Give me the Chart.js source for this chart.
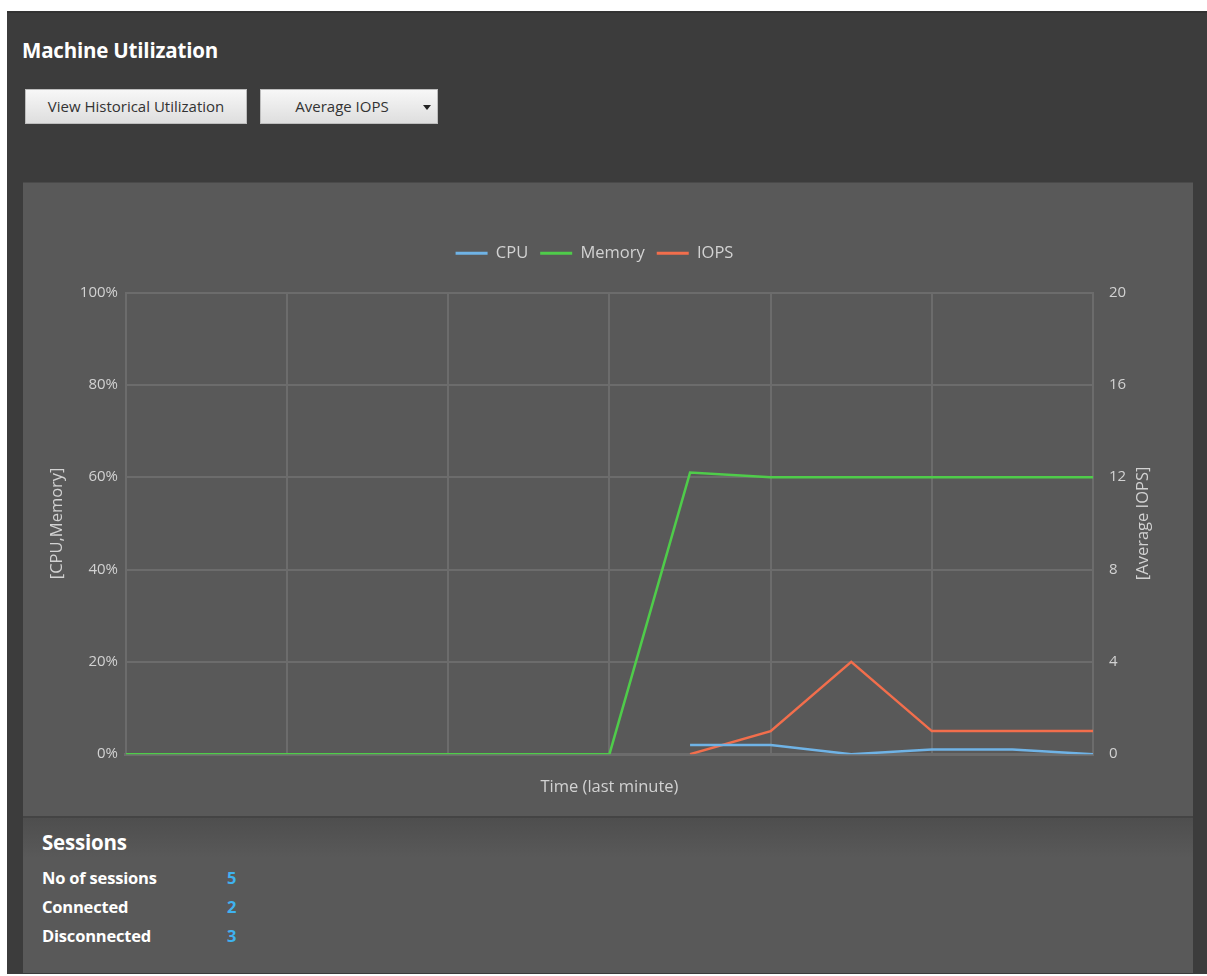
<!DOCTYPE html>
<html>
<head>
<meta charset="utf-8">
<script src="https://cdn.jsdelivr.net/npm/chart.js@4"></script>
<style>
  body { margin: 0; background: #fff; font-family: "Open Sans", "Noto Sans", sans-serif; }
  #outer { position: absolute; left: 7px; top: 11px; width: 1200px; height: 961px; background: #3c3c3c; border-top: 2px solid #333; }
  h1 { position: absolute; left: 15px; top: 23px; margin: 0; font-size: 20.5px; font-weight: 700; color: #fff; letter-spacing: -0.2px; }
  .btn { position: absolute; top: 76px; height: 35px; box-sizing: border-box; border: 1px solid #bdbdbd;
         background: linear-gradient(#f7f7f7, #dedede); color: #333; font-size: 15px; line-height: 33px; text-align: center; }
  #hist { left: 18px; width: 222px; }
  #iops { left: 253px; width: 178px; padding-right: 14px; }
  #iops:after { content: ""; position: absolute; right: 6px; top: 15px; border-left: 4px solid transparent; border-right: 4px solid transparent; border-top: 5px solid #222; }
  #panel { position: absolute; left: 16px; top: 169px; width: 1170px; height: 633px; background: #595959; border-top: 1px solid #4a4a4a; }
  #sessions { position: absolute; left: 16px; top: 803px; width: 1170px; height: 155px;
              background: linear-gradient(#4e4e4e, #595959 40px); border-top: 2px solid #444; color: #fff; }
  #sessions h2 { position: absolute; left: 19px; top: 10px; margin: 0; font-size: 20.5px; font-weight: 700; letter-spacing: -0.2px; }
  .row { position: absolute; left: 19px; font-size: 16.5px; font-weight: 700; letter-spacing: -0.2px; }
  .row span { position: absolute; left: 185px; color: #3fb2f0; }
</style>
</head>
<body>
<div id="outer">
  <h1>Machine Utilization</h1>
  <div class="btn" id="hist">View Historical Utilization</div>
  <div class="btn" id="iops">Average IOPS</div>
  <div id="panel"><canvas id="util"></canvas></div>
  <div id="sessions">
    <h2>Sessions</h2>
    <div class="row" style="top:48px">No of sessions<span>5</span></div>
    <div class="row" style="top:77px">Connected<span>2</span></div>
    <div class="row" style="top:106px">Disconnected<span>3</span></div>
  </div>
</div>
<script>
// seconds within the last minute, one sample every 5 s
var seconds = [0, 5, 10, 15, 20, 25, 30, 35, 40, 45, 50, 55, 60];
var cpu    = [null, null, null, null, null, null, null, 2, 2, 0, 1, 1, 0];
var memory = [0, 0, 0, 0, 0, 0, 0, 61, 60, 60, 60, 60, 60];
var iops   = [null, null, null, null, null, null, null, 0, 1, 4, 1, 1, 1];
var pctTicks = [0, 20, 40, 60, 80, 100];
var iopsTicks = [0, 4, 8, 12, 16, 20];

function points(values) {
    return values.map(function (v, i) { return { x: seconds[i], y: v }; });
}

var tickColor = '#d2d2d2';
var gridColor = '#6c6c6c';
var font = { family: '"Open Sans", "Noto Sans", sans-serif', size: 15 };
var titleFont = { family: '"Open Sans", "Noto Sans", sans-serif', size: 16.5 };

// extra room under the legend, and nudge it a little to the left
var legendGap = {
    id: 'legendGap',
    beforeInit: function (chart) {
        var fit = chart.legend.fit;
        chart.legend.fit = function () {
            fit.call(this);
            this.height += 21;
        };
    },
    afterLayout: function (chart) {
        chart.legend.left -= 17;
        chart.legend.right -= 17;
    }
};

// right axis title, reading bottom-to-top like the left one
var rightTitle = {
    id: 'rightTitle',
    afterDraw: function (chart) {
        var axis = chart.scales.y2;
        var ctx = chart.ctx;
        ctx.save();
        ctx.translate(axis.left + 50, (chart.chartArea.top + chart.chartArea.bottom) / 2);
        ctx.rotate(-Math.PI / 2);
        ctx.fillStyle = tickColor;
        ctx.font = titleFont.size + 'px ' + titleFont.family;
        ctx.textAlign = 'center';
        ctx.textBaseline = 'middle';
        ctx.fillText('[Average IOPS]', 0, 0);
        ctx.restore();
    }
};

var canvas = document.getElementById('util');
canvas.width = 1170;
canvas.height = 633;
new Chart(canvas.getContext('2d'), {
    type: 'line',
    data: {
        datasets: [{
            label: 'CPU',
            data: points(cpu),
            borderColor: '#6fb3e6',
            backgroundColor: '#6fb3e6',
            yAxisID: 'y'
        }, {
            label: 'Memory',
            data: points(memory),
            borderColor: '#4fcc4a',
            backgroundColor: '#4fcc4a',
            yAxisID: 'y'
        }, {
            label: 'IOPS',
            data: points(iops),
            borderColor: '#f26e4c',
            backgroundColor: '#f26e4c',
            yAxisID: 'y2'
        }]
    },
    plugins: [legendGap, rightTitle],
    options: {
        responsive: false,
        animation: false,
        elements: {
            line: { borderWidth: 2.5, tension: 0 },
            point: { radius: 0, hoverRadius: 0 }
        },
        layout: { padding: { top: 50, left: 20, right: 13, bottom: 15 } },
        plugins: {
            tooltip: { enabled: false },
            legend: {
                labels: {
                    color: tickColor,
                    font: titleFont,
                    boxWidth: 32,
                    boxHeight: 3,
                    padding: 12,
                    generateLabels: function (chart) {
                        var items = Chart.defaults.plugins.legend.labels.generateLabels(chart);
                        items.forEach(function (it) { it.lineWidth = 0; });
                        return items;
                    }
                }
            }
        },
        scales: {
            x: {
                type: 'linear',
                min: 0,
                max: 60,
                ticks: { stepSize: 10, display: false },
                grid: { color: gridColor, lineWidth: 2, drawTicks: false },
                border: { color: gridColor, width: 3 },
                title: { display: true, text: 'Time (last minute)', color: tickColor, font: titleFont, padding: { top: 23 } }
            },
            y: {
                position: 'left',
                min: 0,
                max: 100,
                afterBuildTicks: function (axis) { axis.ticks = pctTicks.map(function (v) { return { value: v }; }); },
                ticks: { color: tickColor, font: font, padding: 8, callback: function (v) { return v + '%'; } },
                grid: { color: gridColor, lineWidth: 2, drawTicks: false },
                border: { color: gridColor, width: 2 },
                title: { display: true, text: '[CPU,Memory]', color: tickColor, font: titleFont, padding: { bottom: 5 } }
            },
            y2: {
                position: 'right',
                min: 0,
                max: 20,
                afterBuildTicks: function (axis) { axis.ticks = iopsTicks.map(function (v) { return { value: v }; }); },
                afterFit: function (axis) { axis.width = 87; },
                ticks: { color: tickColor, font: font, padding: 16 },
                grid: { drawOnChartArea: false, drawTicks: false },
                border: { color: gridColor, width: 2 }
            }
        }
    }
});
</script>
</body>
</html>
